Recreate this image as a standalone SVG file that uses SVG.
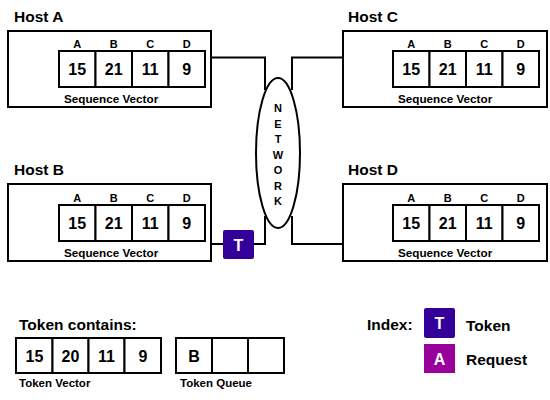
<svg xmlns="http://www.w3.org/2000/svg" width="550" height="400" viewBox="0 0 550 400">
<style>
text{font-family:"Liberation Sans",Arial,sans-serif;font-weight:bold;fill:#000}
.title{font-size:15.5px}
.lbl{font-size:11px;text-anchor:middle}
.num{font-size:16px;text-anchor:middle}
.cap{font-size:11.7px}
.small{font-size:11.5px}
.box{fill:#fff;stroke:#000;stroke-width:2}
.cell{fill:#fff;stroke:#000;stroke-width:2}
.wire{fill:none;stroke:#000;stroke-width:2}
.net{font-size:11px;text-anchor:middle}
.tok{fill:#330099}
.req{fill:#990099}
.wt{fill:#fff;font-size:16px;text-anchor:middle}
</style>
<defs>
<g id="seq">
<rect class="cell" x="0" y="0" width="36.5" height="36"/>
<rect class="cell" x="36.5" y="0" width="36.5" height="36"/>
<rect class="cell" x="73" y="0" width="36.5" height="36"/>
<rect class="cell" x="109.5" y="0" width="36.5" height="36"/>
<text class="lbl" x="18.25" y="-3.5">A</text>
<text class="lbl" x="54.75" y="-3.5">B</text>
<text class="lbl" x="91.25" y="-3.5">C</text>
<text class="lbl" x="127.75" y="-3.5">D</text>
<text class="num" x="18.25" y="24">15</text>
<text class="num" x="54.75" y="24">21</text>
<text class="num" x="91.25" y="24">11</text>
<text class="num" x="127.75" y="24">9</text>
<text class="cap" x="5" y="51.5">Sequence Vector</text>
</g>
</defs>
<g id="connectors">
<polyline class="wire" points="211,57.5 265,57.5 265,90"/>
<polyline class="wire" points="343,57.5 292,57.5 292,90"/>
<polyline class="wire" points="265,216 265,244 211,244"/>
<polyline class="wire" points="292,216 292,244 343,244"/>
</g>
<g id="network">
<ellipse cx="278" cy="153" rx="22" ry="75" fill="#fff" stroke="#000" stroke-width="2"/>
<text class="net" x="278" y="112">N</text>
<text class="net" x="278" y="127.5">E</text>
<text class="net" x="278" y="143">T</text>
<text class="net" x="278" y="158.5">W</text>
<text class="net" x="278" y="174">O</text>
<text class="net" x="278" y="189.5">R</text>
<text class="net" x="278" y="205">K</text>
</g>
<g id="hostA">
<text class="title" x="14" y="22">Host A</text>
<rect class="box" x="8" y="31" width="203" height="76"/>
<use href="#seq" x="59" y="51"/>
</g>
<g id="hostC">
<text class="title" x="348" y="22">Host C</text>
<rect class="box" x="343" y="31" width="204" height="76"/>
<use href="#seq" x="393" y="51"/>
</g>
<g id="hostB">
<text class="title" x="14" y="175">Host B</text>
<rect class="box" x="8" y="184" width="203" height="77"/>
<use href="#seq" x="59" y="205"/>
</g>
<g id="hostD">
<text class="title" x="348" y="175">Host D</text>
<rect class="box" x="343" y="184" width="204" height="77"/>
<use href="#seq" x="393" y="205"/>
</g>
<g id="token">
<rect class="tok" x="223" y="230" width="31" height="29" rx="2"/>
<text class="wt" x="238.5" y="250.5">T</text>
</g>
<g id="tokenContains">
<text class="title" x="19" y="330">Token contains:</text>
<rect class="cell" x="16" y="338" width="36.5" height="35"/>
<rect class="cell" x="52.5" y="338" width="36" height="35"/>
<rect class="cell" x="88.5" y="338" width="36" height="35"/>
<rect class="cell" x="124.5" y="338" width="36.5" height="35"/>
<text class="num" x="34.5" y="361.5">15</text>
<text class="num" x="70.5" y="361.5">20</text>
<text class="num" x="106.5" y="361.5">11</text>
<text class="num" x="143" y="361.5">9</text>
<text class="small" x="19" y="387">Token Vector</text>
<rect class="cell" x="176" y="338" width="36" height="35"/>
<rect class="cell" x="212" y="338" width="36" height="35"/>
<rect class="cell" x="248" y="338" width="36" height="35"/>
<text class="num" x="194" y="361.5">B</text>
<text class="small" x="180" y="387">Token Queue</text>
</g>
<g id="index">
<text class="title" x="367" y="330">Index:</text>
<rect class="tok" x="424" y="308" width="31" height="30" rx="2"/>
<text class="wt" x="439.5" y="329">T</text>
<text class="title" x="466" y="331">Token</text>
<rect class="req" x="424" y="344" width="31" height="29"/>
<text class="wt" x="439.5" y="364.5">A</text>
<text class="title" x="466" y="365">Request</text>
</g>
</svg>
